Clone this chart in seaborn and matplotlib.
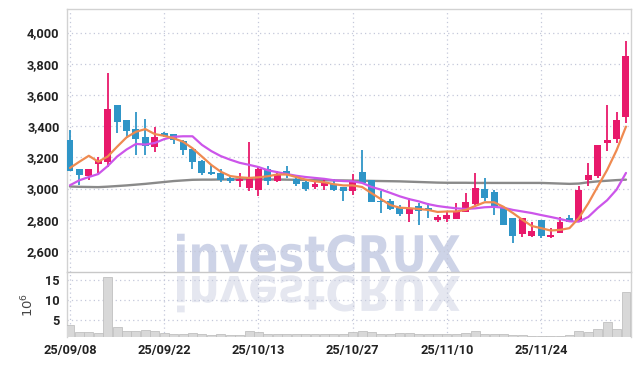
import numpy as np
import pandas as pd
import matplotlib
matplotlib.use('Agg')
import matplotlib.pyplot as plt
import matplotlib.ticker as ticker
import seaborn as sns
from matplotlib.textpath import TextPath
from matplotlib.font_manager import FontProperties
from matplotlib.patches import PathPatch
from matplotlib.transforms import Affine2D

# --- data (KRW, daily) ---
opens = [3310, 3125, 3083, 3160, 3168, 3535, 3440, 3381, 3329, 3268,
         3356, 3349, 3305, 3252, 3176, 3107, 3101, 3066, 3047, 3004,
         2989, 3126, 3051, 3113, 3060, 3040, 3013, 3019, 3030, 3013,
         2983, 3107, 3054, 2920, 2920, 2875, 2835, 2885, 2873, 2800,
         2805, 2805, 2847, 2901, 3000, 2977, 2875, 2811, 2709, 2696,
         2800, 2687, 2716, 2811, 2785, 3054, 3082, 3294, 3319, 3460]
highs = [3375, 3128, 3125, 3205, 3738, 3535, 3442, 3492, 3444, 3397,
         3362, 3352, 3311, 3255, 3180, 3155, 3125, 3080, 3098, 3296,
         3144, 3144, 3110, 3147, 3073, 3046, 3040, 3060, 3062, 3013,
         3093, 3247, 3054, 2983, 2933, 2894, 2940, 2905, 2905, 2830,
         2853, 2905, 2972, 3098, 3066, 2990, 2881, 2811, 2811, 2785,
         2800, 2750, 2815, 2830, 3015, 3165, 3280, 3535, 3492, 3947]
lows = [3110, 3025, 3055, 3100, 3140, 3354, 3322, 3215, 3215, 3236,
        3332, 3285, 3215, 3123, 3088, 3088, 3040, 3037, 3013, 2985,
        2955, 3023, 3040, 3067, 3019, 2983, 2995, 2990, 2983, 2918,
        2958, 3036, 2915, 2843, 2860, 2824, 2788, 2766, 2810, 2788,
        2785, 2805, 2847, 2896, 2918, 2830, 2766, 2649, 2687, 2690,
        2685, 2680, 2716, 2785, 2785, 3015, 3066, 3240, 3290, 3418]
closes = [3113, 3085, 3125, 3175, 3510, 3428, 3370, 3317, 3270, 3332,
          3340, 3311, 3247, 3172, 3101, 3095, 3054, 3051, 3060, 3072,
          3126, 3046, 3093, 3087, 3030, 3000, 3030, 3042, 2990, 2983,
          3048, 3037, 2915, 2912, 2869, 2835, 2867, 2853, 2863, 2815,
          2830, 2853, 2912, 3004, 2940, 2875, 2766, 2693, 2811, 2726,
          2693, 2702, 2788, 2785, 2993, 3085, 3279, 3311, 3439, 3849]
ma_short = [3132, 3172, 3210, 3172, 3205, 3268, 3328, 3364, 3381, 3349,
            3338, 3322, 3300, 3258, 3205, 3151, 3108, 3080, 3072, 3068,
            3072, 3079, 3090, 3090, 3074, 3057, 3046, 3040, 3028, 3020,
            3020, 3010, 2970, 2932, 2894, 2877, 2874, 2869, 2863, 2850,
            2853, 2853, 2863, 2888, 2912, 2912, 2883, 2843, 2800, 2760,
            2746, 2731, 2735, 2746, 2811, 2905, 3013, 3119, 3245, 3397]
ma_mid = [3021, 3053, 3074, 3093, 3144, 3205, 3250, 3286, 3282, 3292,
          3317, 3332, 3335, 3335, 3280, 3240, 3208, 3185, 3165, 3152,
          3138, 3117, 3105, 3093, 3082, 3074, 3068, 3062, 3053, 3048,
          3046, 3036, 3010, 2993, 2972, 2950, 2932, 2918, 2900, 2888,
          2880, 2873, 2869, 2873, 2880, 2883, 2877, 2863, 2853, 2843,
          2830, 2818, 2805, 2790, 2788, 2818, 2875, 2925, 2993, 3100]
ma_long = [3013, 3011, 3010, 3009, 3012, 3016, 3020, 3025, 3030, 3036,
           3042, 3048, 3052, 3056, 3057, 3057, 3058, 3058, 3059, 3060,
           3059, 3058, 3058, 3057, 3056, 3055, 3054, 3053, 3052, 3052,
           3051, 3050, 3049, 3048, 3047, 3046, 3044, 3042, 3040, 3038,
           3037, 3037, 3037, 3036, 3036, 3036, 3036, 3036, 3036, 3036,
           3036, 3034, 3032, 3030, 3032, 3040, 3046, 3050, 3054, 3057]
volume = [3.8, 2.0, 2.0, 1.75, 15.7, 3.2, 2.25, 2.25, 2.5, 2.25,
          1.8, 1.5, 1.5, 1.75, 1.5, 1.3, 1.5, 1.25, 1.25, 2.2,
          2.0, 1.6, 1.5, 1.5, 1.4, 1.4, 1.5, 1.4, 1.5, 1.6,
          2.0, 2.3, 2.0, 1.6, 1.5, 1.7, 1.7, 1.5, 1.6, 1.4,
          1.5, 1.6, 1.7, 2.3, 1.5, 1.5, 1.4, 1.3, 1.2, 1.1,
          1.1, 1.1, 1.1, 1.2, 2.2, 2.0, 2.8, 4.4, 2.8, 11.9]

# trading days (KRX closed for Chuseok / national holidays)
holidays = ['2025-10-03', '2025-10-06', '2025-10-07', '2025-10-08', '2025-10-09']
dates = pd.bdate_range('2025-09-08', '2025-12-05').drop(pd.to_datetime(holidays))
tick_dates = ['2025-09-08', '2025-09-22', '2025-10-13', '2025-10-27', '2025-11-10', '2025-11-24']
price_ticks = [2600, 2800, 3000, 3200, 3400, 3600, 3800, 4000]
volume_ticks = [5, 10, 15]

df = pd.DataFrame({'idx': np.arange(len(dates)), 'open': opens, 'high': highs, 'low': lows,
                   'close': closes, 'ma_short': ma_short, 'ma_mid': ma_mid, 'ma_long': ma_long,
                   'volume': volume}, index=dates)
tick_pos = [df.index.get_loc(pd.Timestamp(d)) for d in tick_dates]
tick_lbl = [pd.Timestamp(d).strftime('%y/%m/%d') for d in tick_dates]

sns.set_theme(style='white')
plt.rcParams['font.family'] = ['Roboto', 'DejaVu Sans']

UP = '#e8196b'
DOWN = '#2f95c7'
GRID = '#c4c8da'
SPINE = '#d2d2d2'

fig = plt.figure(figsize=(6.39, 3.66), dpi=100)
ax = fig.add_axes([66.5 / 639, 1 - 272 / 366, 564 / 639, 262.7 / 366])
axv = fig.add_axes([66.5 / 639, 1 - 337 / 366, 564 / 639, 65 / 366], sharex=ax)
for a in (ax, axv):
    a.set_facecolor('none')

# watermark with reflection
fp = FontProperties(family='DejaVu Sans', weight='bold')
tp = TextPath((0, 0), 'investCRUX', size=1, prop=fp)
ext = tp.get_extents()
sx = (460 - 177) / 639 / ext.width
sy = (272 - 233) / 366 / ext.height
main_tr = Affine2D().translate(-ext.x0, 0).scale(sx, sy).translate(177 / 639, 1 - 272 / 366)
refl_tr = Affine2D().translate(-ext.x0, 0).scale(sx, -sy * 0.95).translate(177 / 639, 1 - 276 / 366)
fig.add_artist(PathPatch(tp, transform=main_tr + fig.transFigure, facecolor='#cdd3e7',
                         edgecolor='none', zorder=-5))
fig.add_artist(PathPatch(tp, transform=refl_tr + fig.transFigure, facecolor='#e5e7f0',
                         edgecolor='none', zorder=-5))

# candles
up = df['close'] >= df['open']
colors = np.where(up, UP, DOWN)
body_lo = df[['open', 'close']].min(axis=1)
body_h = (df['close'] - df['open']).abs().clip(lower=6)
ax.vlines(df['idx'], df['low'], df['high'], colors=colors, linewidth=1.3, zorder=3)
ax.bar(df['idx'], body_h, bottom=body_lo, width=0.74, color=colors, linewidth=0, zorder=4)

# moving averages
sns.lineplot(data=df, x='idx', y='ma_long', ax=ax, color='#8a8a8a', linewidth=1.7, zorder=2)
sns.lineplot(data=df, x='idx', y='ma_mid', ax=ax, color='#cc55ea', linewidth=1.6, zorder=5)
sns.lineplot(data=df, x='idx', y='ma_short', ax=ax, color='#ef8a50', linewidth=1.6, zorder=6)

# volume
sns.barplot(data=df, x='idx', y='volume', ax=axv, native_scale=True, color='#d8d8d8',
            edgecolor='#c0c0c0', linewidth=0.6, width=0.95, errorbar=None, zorder=3)

ax.set_ylim(2465, 4149)
ax.set_yticks(price_ticks)
ax.yaxis.set_major_formatter(ticker.FuncFormatter(lambda v, p: f'{int(v):,}'))
axv.set_ylim(0.75, 17.0)
axv.set_yticks(volume_ticks)
ax.set_xlim(-0.37, len(df) - 0.52)
axv.set_xticks(tick_pos)
axv.set_xticklabels(tick_lbl)
plt.setp(ax.get_xticklabels(), visible=False)

for a in (ax, axv):
    a.set_xlabel('')
    a.set_ylabel('')
    a.grid(True, linestyle=(0, (1, 2.5)), color=GRID, linewidth=0.9)
    a.set_axisbelow(True)
    a.tick_params(length=0, colors='#222222', labelsize=9.2, pad=5)
    for lbl in a.get_yticklabels() + a.get_xticklabels():
        lbl.set_fontweight('bold')
    for s in a.spines.values():
        s.set_color(SPINE)
        s.set_linewidth(1.0)
axv.spines['top'].set_visible(False)
axv.spines['bottom'].set_visible(False)
ax.spines['bottom'].set_color('#c8c8c8')
axv.set_ylabel(r'$10^6$', fontsize=9.5, color='#444444', labelpad=6)

fig.savefig('out.png', dpi=100)
